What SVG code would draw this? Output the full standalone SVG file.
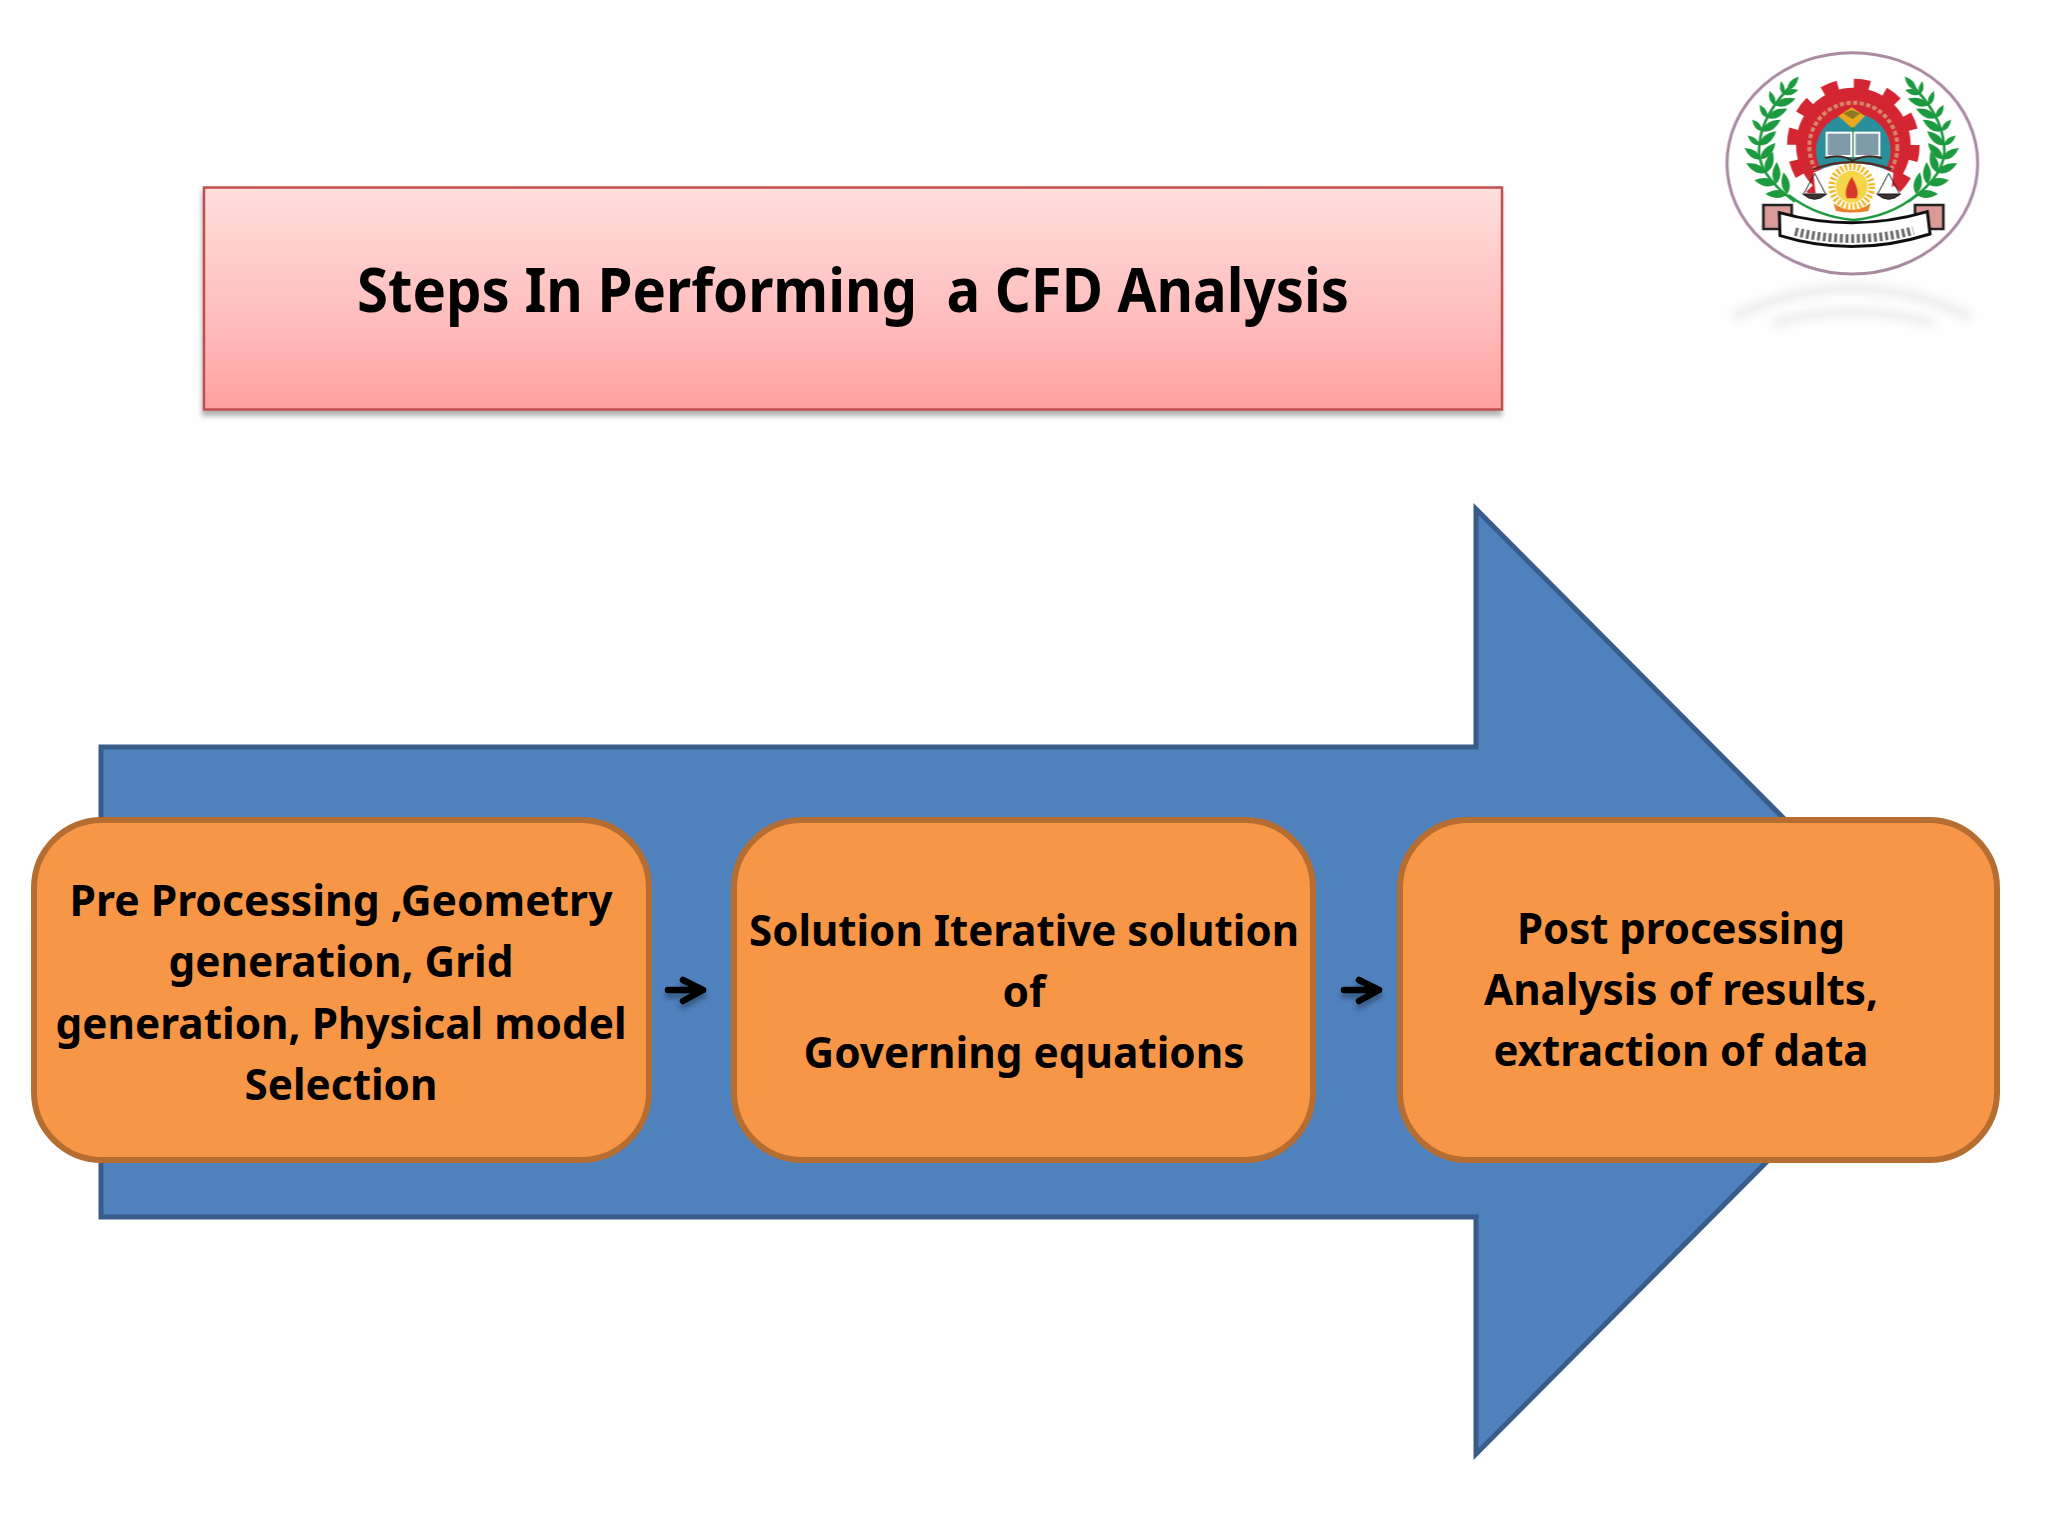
<svg xmlns="http://www.w3.org/2000/svg" xmlns:xlink="http://www.w3.org/1999/xlink" width="2048" height="1536" viewBox="0 0 2048 1536">
<style>
.t{font-family:"Noto Sans","Open Sans","Liberation Sans",sans-serif;font-weight:700;fill:#000;text-anchor:middle;white-space:pre}
.b{font-size:43px}
.box{fill:#f79646;stroke:#b66d31;stroke-width:6}
.con{fill:none;stroke:#000;stroke-width:6.5;stroke-linecap:round;stroke-linejoin:round}
.lf{fill:#1f9a3f}
</style>
<defs>
<linearGradient id="tg" x1="0" y1="0" x2="0" y2="1"><stop offset="0" stop-color="#ffdfdd"/><stop offset="0.6" stop-color="#ffbcbc"/><stop offset="1" stop-color="#ffa0a1"/></linearGradient>
<filter id="s" x="-5%" y="-5%" width="110%" height="115%"><feGaussianBlur stdDeviation="2.5"/></filter>
<filter id="ls" x="-30%" y="-100%" width="160%" height="300%"><feGaussianBlur stdDeviation="2.5"/></filter>
<filter id="lg" x="-5%" y="-5%" width="110%" height="110%"><feGaussianBlur stdDeviation="2"/></filter>
<filter id="rf" x="-10%" y="-30%" width="120%" height="160%"><feGaussianBlur stdDeviation="12"/></filter>
<path id="lf" class="lf" d="M0 0Q26-24 66 0Q26 24 0 0Z"/>
<g id="wing">
<path d="M285 515Q165 430 178 345Q185 250 285 155" fill="none" stroke="#1f9a3f" stroke-width="8"/>
<use href="#lf" transform="translate(262 492) rotate(-180)"/><use href="#lf" transform="translate(262 492) rotate(-100)"/>
<use href="#lf" transform="translate(228 462) rotate(-170)"/><use href="#lf" transform="translate(228 462) rotate(-88)"/>
<use href="#lf" transform="translate(198 428) rotate(-155)"/><use href="#lf" transform="translate(198 428) rotate(-72)"/>
<use href="#lf" transform="translate(182 388) rotate(-145) scale(.9)"/><use href="#lf" transform="translate(182 388) rotate(-48)"/>
<use href="#lf" transform="translate(178 346) rotate(-140) scale(.7)"/><use href="#lf" transform="translate(178 346) rotate(-40)"/>
<use href="#lf" transform="translate(186 304) rotate(-130) scale(.7)"/><use href="#lf" transform="translate(186 304) rotate(-32)"/>
<use href="#lf" transform="translate(202 264) rotate(-120) scale(.7)"/><use href="#lf" transform="translate(202 264) rotate(-25)"/>
<use href="#lf" transform="translate(224 226) rotate(-110) scale(.7)"/><use href="#lf" transform="translate(224 226) rotate(-18)"/>
<use href="#lf" transform="translate(250 192) rotate(-100) scale(.6)"/><use href="#lf" transform="translate(250 192) rotate(-15) scale(.7)"/>
<use href="#lf" transform="translate(262 180) rotate(-50) scale(.8)"/>
</g>
<g id="scale">
<path d="M0-60L-32 0M0-60L32 0" fill="none" stroke="#222" stroke-width="3"/>
<path d="M-36 2Q0 34 36 2Z" fill="#3a3030" stroke="#222" stroke-width="3"/>
</g>
</defs>
<rect width="2048" height="1536" fill="#fefefe"/>
<g id="arrow"><path d="M101 747H1476V509L1946 981.5L1476 1454V1217H101Z" fill="#4f81bd" stroke="#385d8a" stroke-width="5"/></g>
<g id="title">
<rect x="202" y="191" width="1300" height="225" fill="#8a8a8a" opacity=".65" filter="url(#s)"/>
<rect x="204" y="187.500" width="1298" height="222" fill="url(#tg)" stroke="#c0504d" stroke-width="2.500"/>
<text class="t" x="853" y="312" font-size="61" textLength="992" lengthAdjust="spacingAndGlyphs">Steps In Performing  a CFD Analysis</text>
</g>
<g id="logo">
<g transform="translate(1700 30) scale(.33333)" filter="url(#lg)">
<g opacity=".16" filter="url(#rf)" fill="none" stroke="#8d8d8d">
<path d="M100 860Q460 690 810 860" stroke-width="26"/>
<path d="M220 880Q460 810 700 880" stroke-width="24"/>
</g>
<ellipse cx="457" cy="400" rx="376" ry="332" fill="#fff" stroke="#a98aa0" stroke-width="9"/>
<circle cx="460" cy="345" r="172" fill="#d32630"/>
<circle cx="460" cy="345" r="184" fill="none" stroke="#d32630" stroke-width="30" stroke-dasharray="48 48.340"/>
<circle cx="460" cy="350" r="132" fill="none" stroke="#d8a07a" stroke-width="12" stroke-dasharray="13 7" opacity=".8"/>
<circle cx="460" cy="362" r="112" fill="#2c8f9c"/>
<path d="M285 490H640V590H285Z" fill="#fff"/>
<path d="M340 428Q455 372 580 428L570 520Q455 570 350 520Z" fill="#fff"/>
<path d="M340 418Q455 375 575 418" fill="none" stroke="#5a2a20" stroke-width="7"/>
<path d="M415 258L455 232L495 258L458 296Z" fill="#e8a820"/>
<path d="M430 250L455 240L480 250L458 268Z" fill="#8d7a20"/>
<path d="M458 292V385" stroke="#2f8a4a" stroke-width="9"/>
<rect x="380" y="308" width="74" height="70" fill="#7f9aa8" stroke="#fff" stroke-width="6"/>
<rect x="464" y="308" width="74" height="70" fill="#7f9aa8" stroke="#fff" stroke-width="6"/>
<path d="M375 384Q420 370 458 392Q500 370 545 384" fill="none" stroke="#41281f" stroke-width="6"/>
<circle cx="455" cy="470" r="48" fill="#f6d64a"/>
<circle cx="455" cy="470" r="60" fill="none" stroke="#f2b92c" stroke-width="20" stroke-dasharray="7 6"/>
<path d="M455 440Q480 480 470 505H440Q430 480 455 440Z" fill="#d8392a"/>
<path d="M400 520Q455 560 512 520L505 543Q455 552 408 543Z" fill="#e87f2b"/>
<use href="#scale" transform="translate(344 490)"/>
<use href="#scale" transform="translate(566 490)"/>
<path d="M265 495Q350 560 460 570Q570 560 650 495" fill="none" stroke="#1f9a3f" stroke-width="7"/>
<use href="#wing"/>
<use href="#wing" transform="translate(910 0) scale(-1 1)"/>
<path d="M190 525H275V597H190Z" fill="#d99a98" stroke="#222" stroke-width="8"/>
<path d="M645 525H730V597H645Z" fill="#d99a98" stroke="#222" stroke-width="8"/>
<path d="M238 548Q460 610 682 545L690 612Q460 685 240 617Z" fill="#fff" stroke="#111" stroke-width="9"/>
<path d="M285 605Q460 648 640 602" fill="none" stroke="#555" stroke-width="26" stroke-dasharray="9 8" opacity=".85"/>
</g>
</g>
<g id="box1">
<rect class="box" x="34" y="820" width="615" height="340" rx="68"/>
<text class="t b" x="341" y="916" textLength="543" lengthAdjust="spacingAndGlyphs">Pre Processing ,Geometry</text>
<text class="t b" x="341" y="977" textLength="345" lengthAdjust="spacingAndGlyphs">generation, Grid</text>
<text class="t b" x="341" y="1039" textLength="571" lengthAdjust="spacingAndGlyphs">generation, Physical model</text>
<text class="t b" x="341" y="1100" textLength="193" lengthAdjust="spacingAndGlyphs">Selection</text>
</g>
<g id="box2">
<rect class="box" x="734" y="820" width="579" height="340" rx="68"/>
<text class="t b" x="1024" y="946" textLength="550" lengthAdjust="spacingAndGlyphs">Solution Iterative solution</text>
<text class="t b" x="1024" y="1007" textLength="43" lengthAdjust="spacingAndGlyphs">of</text>
<text class="t b" x="1024" y="1068" textLength="441" lengthAdjust="spacingAndGlyphs">Governing equations</text>
</g>
<g id="box3">
<rect class="box" x="1400" y="820" width="597" height="340" rx="68"/>
<text class="t b" x="1681" y="944" textLength="328" lengthAdjust="spacingAndGlyphs">Post processing</text>
<text class="t b" x="1681" y="1005" textLength="394" lengthAdjust="spacingAndGlyphs">Analysis of results,</text>
<text class="t b" x="1681" y="1066" textLength="375" lengthAdjust="spacingAndGlyphs">extraction of data</text>
</g>
<g id="connectors">
<g opacity=".3" filter="url(#ls)" transform="translate(0 5)"><path class="con" d="M668 990H703M683 980L703 990L683 1001"/><path class="con" d="M1344 990H1379M1359 980L1379 990L1359 1001"/></g>
<path class="con" d="M668 990H703M683 980L703 990L683 1001"/>
<path class="con" d="M1344 990H1379M1359 980L1379 990L1359 1001"/>
</g>
</svg>
